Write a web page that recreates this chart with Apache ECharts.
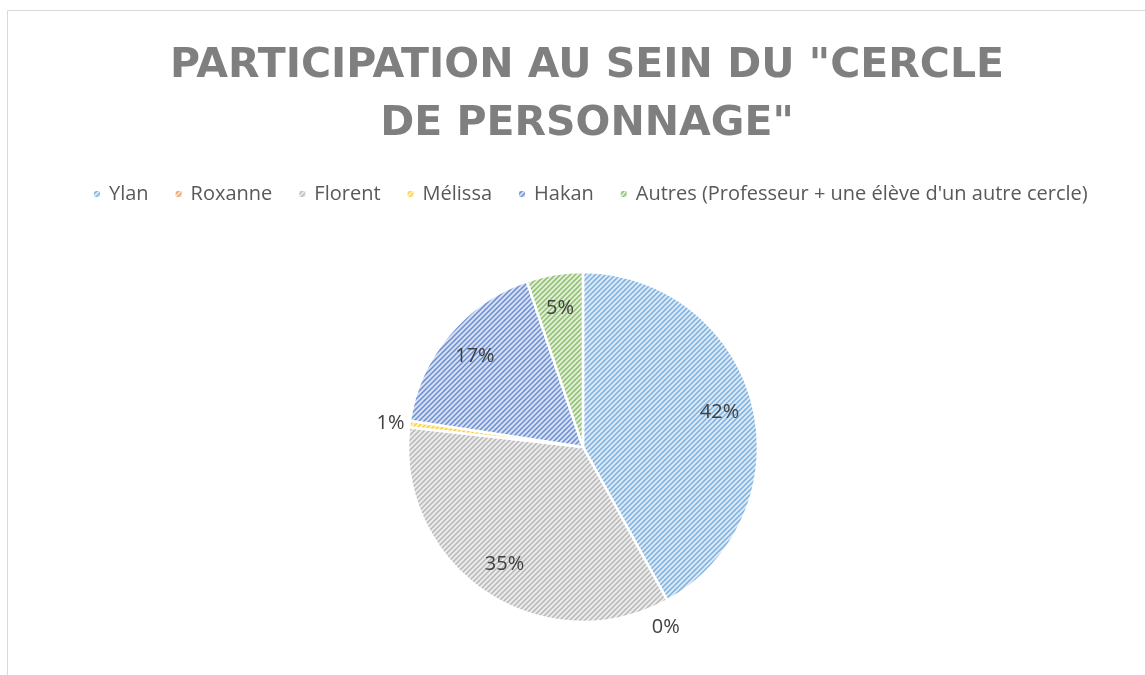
<!DOCTYPE html>
<html>
<head>
<meta charset="utf-8">
<script src="https://cdn.jsdelivr.net/npm/echarts@6/dist/echarts.min.js"></script>
<style>
  html, body { margin: 0; padding: 0; background: #fff; }
  #chart { width: 1145px; height: 675px; }
</style>
</head>
<body>
<div id="chart"></div>
<script>
// data (percent of participation)
const names = ['Ylan', 'Roxanne', 'Florent', 'Mélissa', 'Hakan', "Autres (Professeur + une élève d'un autre cercle)"]
const values = [42, 0, 34.8, 0.6, 17.4, 5.2]
const colors = ['#5B9BD5', '#ED7D31', '#A5A5A5', '#FFC000', '#4472C4', '#70AD47']
const outsideLabels = ['Roxanne', 'Mélissa']

// hatched fill like the office "wide upward diagonal" pattern
function hatch (fg) {
  const size = 10
  const c = document.createElement('canvas')
  c.width = size
  c.height = size
  const ctx = c.getContext('2d')
  ctx.fillStyle = '#fff'
  ctx.fillRect(0, 0, size, size)
  ctx.globalAlpha = 0.22
  ctx.fillStyle = fg
  ctx.fillRect(0, 0, size, size)
  ctx.globalAlpha = 0.75
  ctx.strokeStyle = fg
  ctx.lineWidth = 1.5
  for (let k = -5; k <= 25; k += 5) {
    ctx.beginPath()
    ctx.moveTo(k + 2, -2)
    ctx.lineTo(-2, k + 2)
    ctx.stroke()
  }
  return { image: c, repeat: 'repeat' }
}

const center = [583, 447]

const chart = echarts.init(document.getElementById('chart'))
const option = {
  animation: false,
  title: {
    text: 'PARTICIPATION AU SEIN DU "CERCLE\nDE PERSONNAGE"',
    left: 582,
    top: 32,
    textAlign: 'center',
    textStyle: {
      fontFamily: 'DejaVu Sans',
      fontWeight: 'bold',
      fontSize: 41,
      lineHeight: 58,
      color: '#7f7f7f'
    }
  },
  graphic: [
    {
      type: 'rect',
      shape: { x: 7.5, y: 10.5, width: 1200, height: 700 },
      style: { fill: 'none', stroke: '#d9d9d9', lineWidth: 1 },
      silent: true
    }
  ],
  legend: {
    left: 87,
    top: 179,
    icon: 'rect',
    itemWidth: 8,
    itemHeight: 8,
    itemGap: 25,
    selectedMode: false,
    textStyle: {
      fontFamily: 'Open Sans',
      fontSize: 20,
      lineHeight: 20,
      color: '#595959',
      padding: [0, 0, 0, 3]
    }
  },
  series: [
    {
      type: 'pie',
      center: center,
      radius: [0, 175],
      startAngle: 90,
      clockwise: true,
      avoidLabelOverlap: false,
      percentPrecision: 0,
      emphasis: { disabled: true },
      itemStyle: { borderColor: '#fff', borderWidth: 2.5 },
      label: {
        show: true,
        position: 'outside',
        formatter: '{d}%',
        fontFamily: 'Open Sans',
        fontSize: 20,
        color: '#404040',
        distanceToLabelLine: 0
      },
      labelLine: { show: false, length: 5, length2: 0 },
      labelLayout: function (params) {
        if (params.dataIndex === 1) return { dx: -18, dy: 23 }
        return {}
      },
      data: names.map((n, i) => ({
        name: n,
        value: values[i],
        itemStyle: { color: hatch(colors[i]) },
        label: { show: outsideLabels.indexOf(n) >= 0 }
      }))
    },
    {
      // invisible ring only used to place inner labels at ~0.8 radius
      type: 'pie',
      center: center,
      radius: [0, 276],
      startAngle: 90,
      clockwise: true,
      silent: true,
      z: 3,
      percentPrecision: 0,
      emphasis: { disabled: true },
      itemStyle: { color: 'rgba(0,0,0,0)', borderWidth: 0 },
      label: {
        show: true,
        position: 'inside',
        formatter: '{d}%',
        fontFamily: 'Open Sans',
        fontSize: 20,
        color: '#404040'
      },
      labelLine: { show: false },
      data: names.map((n, i) => ({
        name: n,
        value: values[i],
        label: { show: outsideLabels.indexOf(n) < 0 }
      }))
    }
  ]
}
chart.setOption(option)
</script>
</body>
</html>
